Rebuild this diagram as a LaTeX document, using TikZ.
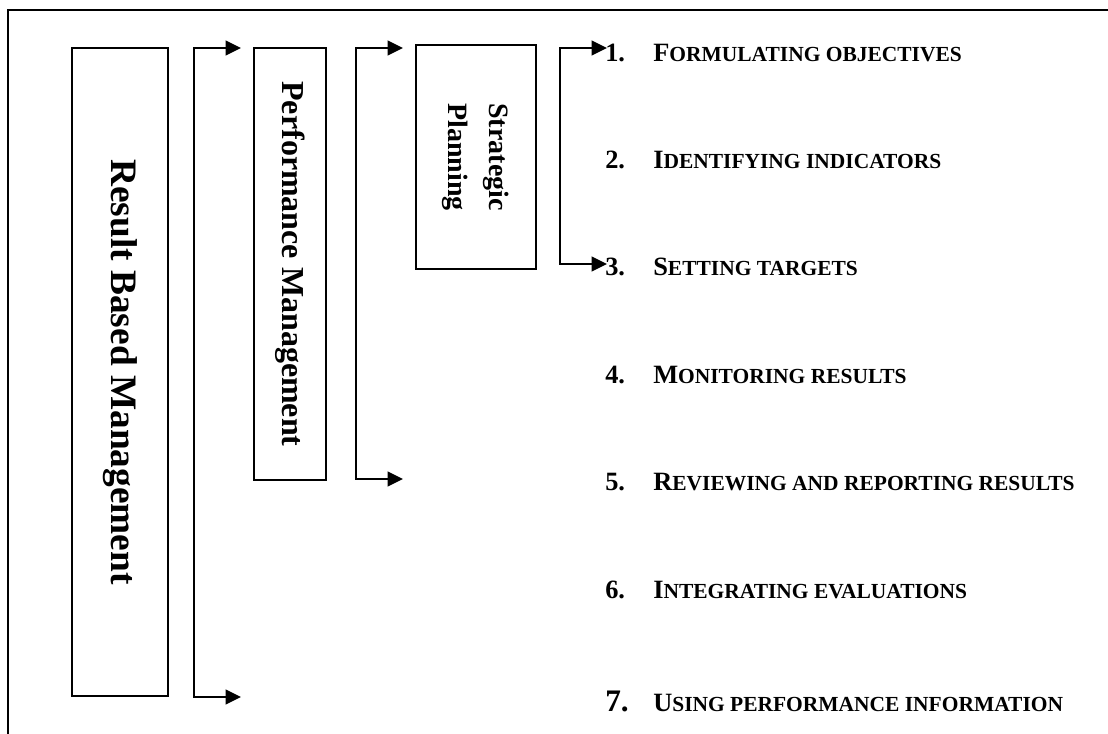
\documentclass[tikz,border=0pt]{standalone}
\usepackage{fontspec}
\setmainfont{Liberation Serif}
\usetikzlibrary{arrows.meta}
\newcommand\scword[2]{#1{\fontsize{16.1}{16.1}\selectfont #2}}
\begin{document}
\begin{tikzpicture}[x=0.75pt,y=-0.75pt,
  box/.style={draw,line width=1.5pt,rotate=-90,inner sep=0pt},
  link/.style={line width=1.5pt,{Triangle[length=11.5pt,width=11pt]}-{Triangle[length=11.5pt,width=11pt]}},
  item/.style={anchor=base west,inner sep=0pt,font=\fontsize{19.8}{19.8}\selectfont\bfseries}]
\useasboundingbox (0,0) rectangle (1108,734);
\draw[line width=1.5pt] (8,734) -- (8,10) -- (1108,10);
% boxes
\node[box,minimum width=486pt,minimum height=72pt,font=\fontsize{28}{28}\selectfont\bfseries] (rbm) at (120,372) {Result Based Management};
\node[box,minimum width=324pt,minimum height=54pt,font=\fontsize{24}{24}\selectfont\bfseries] (pm) at (290,264) {Performance Management};
\node[box,minimum width=168pt,minimum height=90pt,align=center,font=\fontsize{21}{30.75}\selectfont\bfseries] (sp) at (476,157) {Strategic\\Planning};
% items
\node[item] (i1) at (605,62) {\makebox[36pt][l]{1.}\scword{F}{ORMULATING OBJECTIVES}};
\node[item] (i2) at (605,169) {\makebox[36pt][l]{2.}\scword{I}{DENTIFYING INDICATORS}};
\node[item] (i3) at (605,276) {\makebox[36pt][l]{3.}\scword{S}{ETTING TARGETS}};
\node[item] (i4) at (605,384) {\makebox[36pt][l]{4.}\scword{M}{ONITORING RESULTS}};
\node[item] (i5) at (605,491) {\makebox[36pt][l]{5.}\scword{R}{EVIEWING AND REPORTING RESULTS}};
\node[item] (i6) at (605,599) {\makebox[36pt][l]{6.}\scword{I}{NTEGRATING EVALUATIONS}};
\node[item] (i7) at (605,711) {\makebox[36pt][l]{\fontsize{23.5}{23.5}\selectfont 7.}\scword{U}{SING PERFORMANCE INFORMATION}};
% bracket coordinates
\coordinate (r1t) at (194,48);  \coordinate (r1b) at (194,697);
\coordinate (p1t) at (241,48);  \coordinate (p1b) at (241,697);
\coordinate (r2t) at (356,48);  \coordinate (r2b) at (356,479);
\coordinate (p2t) at (403,48);  \coordinate (p2b) at (403,479);
\coordinate (r3t) at (560,48);  \coordinate (r3b) at (560,264);
\coordinate (p3t) at (607,48);  \coordinate (p3b) at (607,264);
\draw[link] (p1t) -- (r1t) -- (r1b) -- (p1b);
\draw[link] (p2t) -- (r2t) -- (r2b) -- (p2b);
\draw[link] (p3t) -- (r3t) -- (r3b) -- (p3b);
\end{tikzpicture}
\end{document}
